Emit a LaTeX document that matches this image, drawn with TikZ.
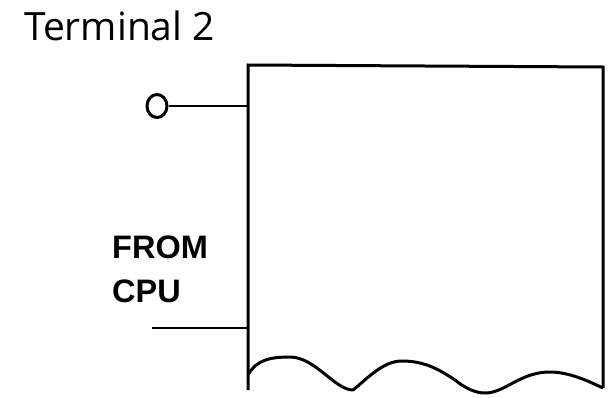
\documentclass[tikz,border=0pt]{standalone}
\usepackage{fontspec}
\newfontfamily\titlefont{Open Sans}
\newfontfamily\labelfont{Liberation Sans}
\usetikzlibrary{shapes.geometric}
\tikzset{
  titletext/.style={inner sep=0pt, anchor=base west, font=\titlefont\fontsize{39}{46}\selectfont},
  labeltext/.style={inner sep=0pt, anchor=base west, font=\labelfont\bfseries\fontsize{32.5}{38}\selectfont},
  edge/.style={line width=3pt, black},
  wire/.style={line width=2.6pt, black},
  port/.style={ellipse, draw, line width=3pt, minimum width=20pt, minimum height=23pt, inner sep=0pt}
}
\begin{document}
\begin{tikzpicture}[x=1pt,y=-1pt]
\useasboundingbox[fill=white] (0,0) rectangle (611,397);
% title
\node[titletext] (term) at (24,40.7) {Terminal 2};
% box corners
\coordinate (tl) at (248,65);
\coordinate (tr) at (603,67);
\coordinate (br) at (603,388);
\coordinate (bl) at (248,390);
\coordinate (wavestart) at (248,375);
\draw[edge] (bl) -- (tl) -- (tr) -- (br);
\draw[edge, line join=round] (wavestart)
  .. controls (256,360) and (270,357) .. (290,357)
  .. controls (315,357) and (335,390) .. (353,390)
  .. controls (368,378) and (383,361) .. (402,361)
  .. controls (425,361) and (440,370) .. (455,380)
  .. controls (465,388) and (475,393) .. (485,393)
  .. controls (505,393) and (520,372) .. (550,372)
  .. controls (570,372) and (590,382) .. (br);
% input port
\node[port] (port) at (157,106) {};
\coordinate (pin1) at (248,106);
\draw[wire] (port.east) -- (pin1);
% FROM CPU
\node[labeltext] (from) at (112,258) {FROM};
\node[labeltext] (cpu) at (112,302) {CPU};
\coordinate (cpufree) at (152,328);
\coordinate (pin2) at (248,328);
\draw[wire] (cpufree) -- (pin2);
\end{tikzpicture}
\end{document}
